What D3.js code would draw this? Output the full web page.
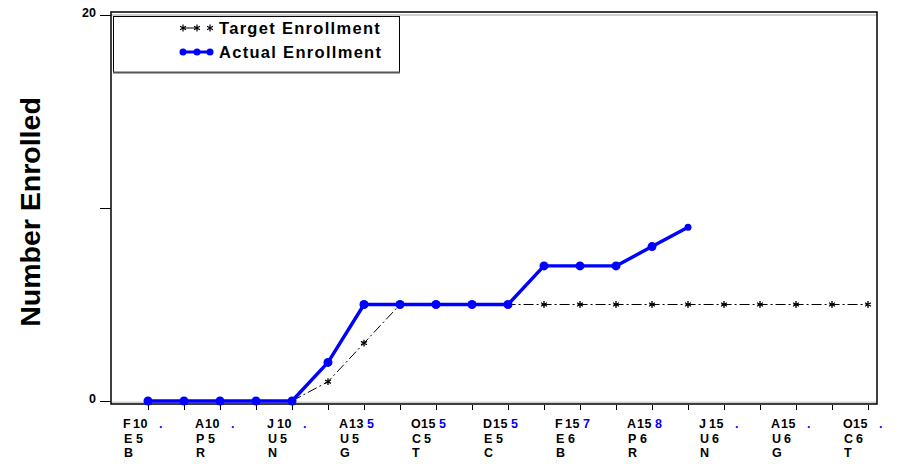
<!DOCTYPE html>
<html lang="en">
<head>
<meta charset="UTF-8">
<title>Enrollment</title>
<script src="https://d3js.org/d3.v7.min.js"></script>
<style>
    body { margin: 0; background: #fff; }
    svg text { font-family: "Liberation Sans", Arial, sans-serif; font-weight: bold; }
</style>
</head>
<body>
<svg width="897" height="464"></svg>
<script>
    // months on the x axis (one tick each)
    const months = ["2015-02","2015-03","2015-04","2015-05","2015-06","2015-07","2015-08",
        "2015-09","2015-10","2015-11","2015-12","2016-01","2016-02","2016-03","2016-04",
        "2016-05","2016-06","2016-07","2016-08","2016-09","2016-10"];

    const target = [0,0,0,0,0,1,3,5,5,5,5,5,5,5,5,5,5,5,5,5,5];
    const actual = [0,0,0,0,0,2,5,5,5,5,5,7,7,7,8,9];

    // tick labels, every second month, drawn in three rows
    const labTop  = ["F10","A10","J10","A13","O15","D15","F15","A15","J15","A15","O15"];
    const labBlue = [".",".",".","5","5","5","7","8",".",".","."];
    const labMid  = ["E5","P5","U5","U5","C5","E5","E6","P6","U6","U6","C6"];
    const labBot  = ["B","R","N","G","T","C","B","R","N","G","T"];

    const yTicks = [0, 10, 20];
    const yTickLabels = ["0", "", "20"];

    const svg = d3.select("svg");
    const pLeft = 111, pRight = 877, pTop = 12, pBottom = 404;

    let x = d3.scalePoint().domain(months).range([148, 868]);
    let y = d3.scaleLinear().domain([0, 20]).range([401, 15]);

    // frame
    svg.append("line").attr("x1", pLeft).attr("x2", pRight).attr("y1", 15).attr("y2", 15)
        .attr("stroke", "#d0d0d0").attr("stroke-width", 2);
    svg.append("line").attr("x1", pLeft).attr("x2", pRight).attr("y1", 402.5).attr("y2", 402.5)
        .attr("stroke", "#d0d0d0").attr("stroke-width", 2);
    svg.append("rect").attr("x", pLeft).attr("y", pTop)
        .attr("width", pRight - pLeft).attr("height", pBottom - pTop)
        .attr("fill", "none").attr("stroke", "#000").attr("stroke-width", 1.5);

    // y axis
    let yAxis = d3.axisLeft(y).tickValues(yTicks).tickSize(11).tickPadding(4)
        .tickFormat((d, i) => yTickLabels[i]);
    let gy = svg.append("g").attr("transform", `translate(${pLeft},0)`).call(yAxis);
    gy.select(".domain").remove();
    gy.selectAll("text").attr("font-size", 12.5).attr("font-family", null).attr("dy", "0.1em");

    // x axis ticks
    let xAxis = d3.axisBottom(x).tickSize(5).tickFormat("");
    let gx = svg.append("g").attr("transform", `translate(0,${pBottom + 1})`).call(xAxis);
    gx.select(".domain").remove();

    const labelMonths = months.filter((d, i) => i % 2 === 0);
    let gl = svg.append("g").attr("font-size", 12.5);
    labelMonths.forEach(function (m, i) {
        let cx = x(m);
        let t = gl.append("text").attr("x", cx - 25).attr("y", 428);
        t.append("tspan").text(labTop[i][0]);
        t.append("tspan").attr("x", cx - 15).attr("letter-spacing", 0.5).text(labTop[i].slice(1));
        t.append("tspan").attr("x", labBlue[i] === "." ? cx + 11 : cx + 3)
            .attr("fill", "#0000ff").text(labBlue[i]);
        let t2 = gl.append("text").attr("x", cx - 24).attr("y", 442.5);
        t2.append("tspan").text(labMid[i][0]);
        t2.append("tspan").attr("x", cx - 12).text(labMid[i].slice(1));
        gl.append("text").attr("x", cx - 24).attr("y", 457).text(labBot[i]);
    });

    // y title
    svg.append("text").attr("transform", "translate(40,212) rotate(-90)")
        .attr("text-anchor", "middle").attr("font-size", 28.5).text("Number Enrolled");

    // star symbol
    const star = d3.symbol().type(d3.symbolAsterisk).size(32);

    // target line
    let line = d3.line().x((d, i) => x(months[i])).y(d => y(d));
    svg.append("path").datum(target).attr("d", line)
        .attr("fill", "none").attr("stroke", "#000").attr("stroke-width", 1)
        .attr("stroke-dasharray", "10,3,2,3");
    svg.append("g").selectAll("path").data(target).join("path")
        .attr("transform", (d, i) => `translate(${x(months[i])},${y(d)})`)
        .attr("d", star).attr("stroke", "#000").attr("stroke-width", 1.3).attr("fill", "none");

    // actual line
    svg.append("path").datum(actual).attr("d", line)
        .attr("fill", "none").attr("stroke", "#0000ff").attr("stroke-width", 3.4)
        .attr("stroke-linejoin", "round");
    svg.append("g").selectAll("circle").data(actual).join("circle")
        .attr("cx", (d, i) => x(months[i])).attr("cy", d => y(d))
        .attr("r", (d, i) => i === actual.length - 1 ? 3.5 : 4.5).attr("fill", "#0000ff");

    // legend
    let lg = svg.append("g");
    lg.append("rect").attr("x", 113.5).attr("y", 16.5).attr("width", 286).attr("height", 56)
        .attr("fill", "#fff").attr("stroke", "#000").attr("stroke-width", 1);
    lg.append("line").attr("x1", 113).attr("x2", 400).attr("y1", 72.5).attr("y2", 72.5)
        .attr("stroke", "#555").attr("stroke-width", 2);
    const legX = [183, 197, 210];
    lg.append("line").attr("x1", legX[0]).attr("x2", legX[1]).attr("y1", 28).attr("y2", 28)
        .attr("stroke", "#000").attr("stroke-width", 1);
    legX.forEach(function (lx) {
        lg.append("path").attr("transform", `translate(${lx},28)`).attr("d", star)
            .attr("stroke", "#000").attr("stroke-width", 1.2).attr("fill", "none");
    });
    lg.append("line").attr("x1", legX[0]).attr("x2", legX[2]).attr("y1", 52).attr("y2", 52)
        .attr("stroke", "#0000ff").attr("stroke-width", 3);
    legX.forEach(function (lx) {
        lg.append("circle").attr("cx", lx).attr("cy", 52).attr("r", 3.5).attr("fill", "#0000ff");
    });
    lg.append("text").attr("x", 219).attr("y", 33.5).attr("font-size", 16.5)
        .attr("letter-spacing", 1.3).text("Target Enrollment");
    lg.append("text").attr("x", 219).attr("y", 57.5).attr("font-size", 16.5)
        .attr("letter-spacing", 1.3).text("Actual Enrollment");
</script>
</body>
</html>
